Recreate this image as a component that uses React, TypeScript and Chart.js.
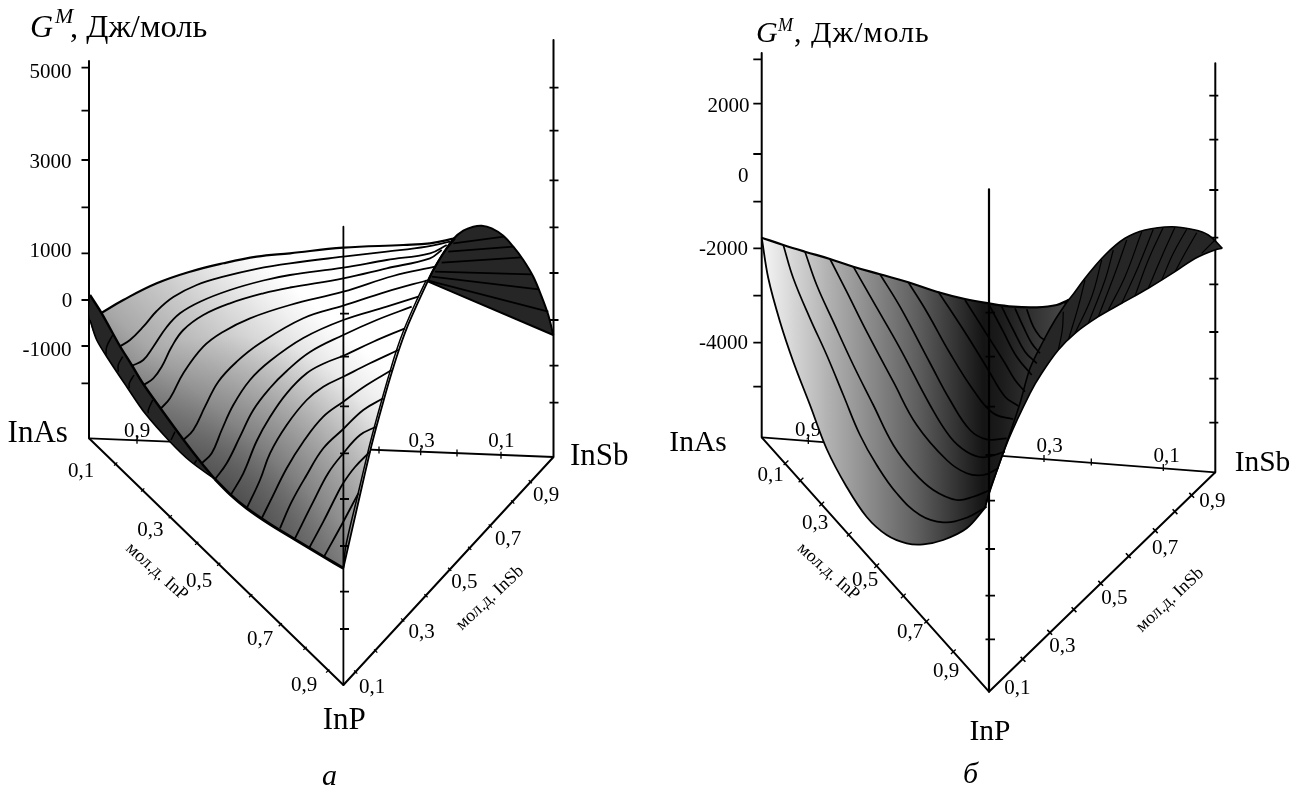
import React, { useEffect, useRef } from "react";
import { Chart, registerables } from "chart.js";

Chart.register(...registerables);

type Pt = [number, number];

// ---------- Panel a ----------
const axisLeftA: Pt[] = [[89, 61], [89, 438.3]];
const axisRightA: Pt[] = [[553.5, 40], [553.5, 457]];
const axisMidA: Pt[] = [[343.4, 226.7], [343.4, 685]];
const baseA: Pt[] = [[89, 438.3], [343.4, 685], [553.5, 457]];
const backA: Pt[] = [[89, 438.3], [553.5, 457]];
const leftTicksA = [67.7, 110.7, 160, 207.3, 253.3, 300, 346, 383.3];
const rightTicksA = [87.7, 130.7, 180.3, 227.3, 273, 320, 365.7, 402.7];
const midTicksA = [313.7, 356.7, 406.3, 453.3, 499, 546, 591.7, 629];
const inpTicksA: Pt[] = [[115.7, 464], [142.7, 490], [170.3, 516.7], [196.7, 543.3], [218.7, 564.3], [250.7, 595.7], [280.3, 624.7], [305, 648.3], [327.7, 671]];
const insbTicksA: Pt[] = [[355.7, 672], [375.7, 651], [402.7, 620], [426, 595.7], [449.7, 569.3], [469.7, 548.3], [490.3, 526], [512.7, 502], [530.3, 481.7]];
const backTicksA: Pt[] = [[137, 440.3], [379, 450], [420.7, 451.7], [457, 453], [501, 455.3]];

const topEdgeA: Pt[] = [[101.7, 312.7], [123.3, 300], [156.7, 283.3], [190, 271.7], [223.3, 263.3], [256.7, 256.7], [290, 253.3], [343.3, 247.7], [403.3, 245], [430, 243.3], [455, 238.3]];
const wingEdgeA: Pt[] = [[455, 238.3], [443.3, 253.3], [433.3, 270], [428.3, 280]];
const rightEdgeA: Pt[] = [[428.3, 280], [418.3, 301.7], [406.7, 328.3], [398.3, 351.7], [390, 378.3], [383.3, 401.7], [376, 428.3], [370, 451.7], [360, 495], [343.3, 568.3]];
const innerEdgeA: Pt[] = [[426.3, 280], [416, 301.7], [404.5, 328.3], [396, 351.7], [388, 378.3], [381.3, 401.7], [374, 428.3], [368, 451.7], [358, 494], [346, 545], [343.3, 568.3]];
const bottomEdgeA: Pt[] = [[343.3, 568.3], [325, 557.5], [295, 539.5], [270, 524.3], [246.7, 508.3], [230.7, 495], [215, 479.3]];
const stripEdgeA: Pt[] = [[215, 479.3], [201.7, 463.3], [183.3, 439.5], [161, 409], [143.3, 384], [131.7, 365], [119.3, 345], [101.7, 312.7]];
const stripUpperA: Pt[] = [[90, 295], [101.7, 313.3], [119.3, 345], [131.7, 365], [143.3, 384], [161, 409], [183.3, 439.5], [201.7, 463.3], [215, 479.3]];
const stripLowerA: Pt[] = [[215, 479.3], [190, 461], [170, 441.7], [145, 413.3], [126.7, 386.7], [110, 361.7], [96.7, 340], [90, 320], [90, 295]];
const stripLinesA: Pt[][] = [
  [[112.7, 335], [106.7, 346.7], [106, 355]],
  [[122.7, 356.7], [118.3, 365], [118.3, 371.7]],
  [[134, 375], [129.3, 383.3], [129.3, 388.3]],
  [[152.7, 400], [148.3, 410], [148.3, 413.3]],
  [[175, 431.7], [171, 440]],
  [[196.7, 460], [194, 464]],
];
const contoursA: Pt[][] = [
  [[119.3, 346.7], [130, 340], [143.3, 326.7], [156.7, 311], [173.3, 297], [196.7, 285], [223.3, 276.7], [256.7, 268.8], [290, 263.3], [343.3, 256.7], [386.7, 251.7], [426.7, 246.7], [450, 241.7]],
  [[131.7, 366], [143.3, 360], [153.3, 346.7], [166.7, 327], [180, 313.3], [200, 301.7], [230, 290], [263.3, 280.5], [290, 275], [343.3, 267.7], [386.7, 260], [430, 253.3], [446.7, 245]],
  [[143.3, 385.3], [153.3, 378.3], [161.7, 366.7], [171.7, 346.7], [183.3, 330], [203.3, 315], [230, 303.3], [263.3, 293.3], [290, 287.5], [343.3, 278.3], [386.7, 268.3], [430, 258.3], [441.7, 250]],
  [[161, 408.3], [170, 398.3], [183.3, 373.3], [203.3, 346.7], [223.3, 331.7], [250, 318.3], [290, 305], [343.3, 291.7], [393, 276], [435, 266.7]],
  [[183.3, 440], [193.3, 430], [205, 406.7], [218.3, 381.7], [236.7, 361.7], [260, 343.3], [303.3, 318.3], [343.3, 305.7], [386.7, 291.7], [428.3, 280]],
  [[201.7, 463.3], [211.7, 453.3], [221.7, 430], [233.3, 405], [250, 380], [270, 361], [303.3, 338], [343.3, 320], [386.7, 306.7], [418.3, 296.7]],
  [[215, 479.3], [226.7, 463.3], [240, 436.7], [253.3, 410], [270, 388], [286.7, 371], [310, 352], [343.3, 335], [376.7, 320], [411.7, 306.7]],
  [[230.7, 495], [243.3, 473.3], [256.7, 441], [270, 417], [286.7, 393.3], [306.7, 373.3], [325, 363], [343.3, 355.7], [373.3, 341.7], [405, 328.3]],
  [[246.7, 508.3], [260, 480], [270, 453.3], [286.7, 425], [306.7, 400], [323.3, 386.7], [343.3, 376.7], [370, 363.3], [398.3, 350]],
  [[261.7, 518.3], [270, 501.7], [286.7, 468.3], [303.3, 441.7], [323.3, 416.7], [343.3, 401.7], [366.7, 385], [391.7, 370]],
  [[280, 528.3], [291.7, 501.7], [306.7, 475], [323.3, 448.3], [343.3, 429], [363.3, 410], [383.3, 398.3]],
  [[295, 538.3], [313.3, 501.7], [328.3, 473], [343.3, 453.3], [360, 435], [376, 426.7]],
  [[309.3, 547.7], [323.3, 521.7], [336.7, 495], [343.3, 483], [355, 467], [370, 451.7]],
  [[324, 556.7], [343.3, 521.7], [358.3, 493.3]],
];
const wingA: Pt[] = [[428.3, 280], [433.3, 270], [443.3, 253.3], [453.3, 239], [463.3, 230.7], [473.3, 226.7], [481.7, 225.7], [491.7, 228.3], [503.3, 235.7], [513.3, 246.7], [523.3, 260], [533.3, 276.7], [541.7, 296.7], [548.3, 315], [553.3, 335], [553.3, 335], [428.3, 281.7], [428.3, 280]];
const wingLinesA: Pt[][] = [
  [[453.3, 243.3], [504, 236.7]],
  [[448.3, 251.7], [513.3, 246.7]],
  [[441.7, 262.7], [521.7, 257.3]],
  [[435, 271.7], [531, 274.3]],
  [[431.7, 276.7], [538.7, 289.3]],
  [[428.3, 280.7], [548.3, 311.7]],
];

// ---------- Panel b ----------
const axisLeftB: Pt[] = [[761.7, 53], [761.7, 437.3]];
const axisRightB: Pt[] = [[1215.3, 63.3], [1215.3, 472.3]];
const axisMidB: Pt[] = [[989, 189.3], [989, 691.7]];
const baseB: Pt[] = [[761.7, 437.3], [989, 691.7], [1215.3, 472.3]];
const backB: Pt[] = [[761.7, 437.3], [1215.3, 472.3]];
const leftTicksB = [59.3, 103.7, 154, 201.7, 248.3, 295.7, 342.7, 386.7];
const rightTicksB = [95.7, 139.7, 190, 237.7, 284.3, 332, 378.7, 422.7];
const midTicksB = [312.7, 356.7, 406.7, 455, 500.7, 549, 595.7, 639.3];
const inpTicksB: Pt[] = [[786, 462.7], [801, 480], [821.7, 504], [849.3, 534.3], [876.7, 565.7], [903.3, 596], [926.7, 621.3], [953.3, 651.7]];
const insbTicksB: Pt[] = [[1023, 659.3], [1049.7, 632.3], [1074, 609.7], [1100.7, 583.3], [1128.3, 555.7], [1155.3, 530.7], [1175, 511.7], [1191.7, 495.3]];
const backTicksB: Pt[] = [[808.3, 440.5], [1044, 458.5], [1091.3, 462], [1163.3, 467.5]];

const topEdgeB: Pt[] = [[761.7, 237.7], [783.3, 245], [805, 251.7], [830, 259], [853.3, 266.7], [880, 274.3], [908.3, 282.3], [936.7, 291.7], [965, 299], [988.3, 303.3], [1013.3, 306.7], [1036.7, 307.3], [1056.7, 305], [1068.3, 300]];
const innerEdgeB: Pt[] = [[1068.3, 300], [1055, 320], [1043.3, 341], [1030, 368.3], [1020, 403.3], [1010, 433.3], [998.3, 466.7], [990, 490], [985, 508]];
const lowerEdgeB: Pt[] = [[985, 508], [966.7, 528.3], [943.3, 540], [923.3, 544.3], [906.7, 543.3], [886.7, 535], [866.7, 517], [846.7, 487], [826.7, 449], [810, 405], [793.3, 361.7], [780, 321.7], [768.3, 278.3], [761.7, 237.7]];
const contoursB: Pt[][] = [
  [[783.3, 245], [793.3, 278.3], [810, 318.3], [826.7, 355], [843.3, 395], [860, 435], [876.7, 465], [896.7, 493.3], [920, 515], [943.3, 522.3], [966.7, 517.7], [986.7, 506.7]],
  [[805, 251.7], [816.7, 285], [833.3, 321.7], [853.3, 365], [873.3, 405], [893.3, 445], [913.3, 471.7], [933.3, 490], [956.7, 500], [973.3, 496.7], [990, 490]],
  [[830, 259], [846.7, 291.7], [866.7, 331.7], [893.3, 381.7], [916.7, 425], [946.7, 460], [966.7, 473.3], [983.3, 475], [998.3, 468.3]],
  [[853.3, 266.7], [873.3, 301.7], [900, 348.3], [930, 405], [950, 436.7], [966.7, 451.7], [983.3, 457.3], [1005, 451.7]],
  [[880, 274.3], [900, 306.7], [930, 363], [950, 400], [970, 430], [986.7, 439.3], [1006.7, 438.3]],
  [[908.3, 282.3], [926.7, 311.7], [950, 353.3], [973.3, 390], [993.3, 413.3], [1013.3, 419.3]],
  [[938.3, 291.7], [966.7, 335], [988.3, 370], [1005, 396.7], [1018.3, 406]],
  [[965, 300], [988.3, 336.7], [1005, 363.3], [1015, 380], [1025, 391.7]],
  [[988.3, 303.3], [1003.3, 331.7], [1016.7, 356.7], [1031.7, 375]],
  [[1001.7, 306.7], [1013.3, 330], [1025, 351.7], [1036.7, 363.3]],
  [[1015, 308.3], [1023.3, 326.7], [1031.7, 343.3], [1040, 353.3]],
  [[1026.7, 309.3], [1033.3, 326.7], [1040, 336.7], [1045, 340]],
];
const wingTopB: Pt[] = [[1064.3, 303.3], [1070, 298.3], [1085, 278.3], [1105, 255], [1125, 238.3], [1145, 230], [1171.7, 226.7], [1191.7, 229.3], [1208.3, 235], [1222.3, 248.3]];
const wingOuterB: Pt[] = [[1222.3, 248.3], [1215, 250], [1195, 258.5], [1175, 271.7], [1148.3, 288.3], [1121.7, 303.3], [1098.3, 316.7], [1075, 333.3], [1058.3, 350], [1041.7, 373.3], [1030, 393.3], [1008.3, 440], [990, 491], [985, 508]];
const wingInnerB: Pt[] = [[985, 508], [990, 490], [998.3, 466.7], [1010, 433.3], [1020, 403.3], [1030, 368.3], [1043.3, 341], [1055, 320], [1064.3, 303.3]];
const wingLinesB: Pt[][] = [
  [[1063.3, 311.7], [1062.3, 330], [1058.3, 350]],
  [[1085, 280], [1078.3, 306.7], [1068.3, 340]],
  [[1101.7, 260], [1091.7, 296.7], [1075, 333.3]],
  [[1113.3, 250], [1105, 280], [1088.3, 323.3]],
  [[1126.7, 240], [1115, 273.3], [1098.3, 316.7]],
  [[1141.7, 231.7], [1125, 276.7], [1108.3, 310]],
  [[1153.3, 229.3], [1138.3, 266.7], [1121.7, 303.3]],
  [[1163.3, 227.3], [1148.3, 260], [1135, 296]],
  [[1175, 227.3], [1161.7, 256.7], [1148.3, 288.3]],
  [[1186.7, 229.3], [1173.3, 253.3], [1161.7, 280]],
  [[1196.7, 232.7], [1185, 253.3], [1175, 271.7]],
  [[1215, 240], [1201.7, 253.3]],
];

// ---------- Labels ----------
type Label = [string, number, number];
const valueLabelsA: Label[] = [["5000", 50.5, 71], ["3000", 50.5, 161], ["1000", 50.5, 250], ["0", 67, 300], ["-1000", 47, 349.5]];
const tickLabelsA: Label[] = [["0,9", 137, 430.7], ["0,3", 421.7, 440], ["0,1", 501.3, 440], ["0,1", 81, 470.7], ["0,3", 150.3, 529.3], ["0,5", 199, 580], ["0,7", 260, 638], ["0,9", 304, 684.3], ["0,1", 372, 686.7], ["0,3", 421.7, 631.7], ["0,5", 464.3, 581.7], ["0,7", 508, 538.3], ["0,9", 546, 494.7]];
const cornerLabelsA: Label[] = [["InAs", 37.7, 432.7], ["InSb", 599.3, 455], ["InP", 344.3, 719.3]];
const valueLabelsB: Label[] = [["2000", 728.5, 105], ["0", 743.3, 175.7], ["-2000", 723.5, 248], ["-4000", 723.5, 342]];
const tickLabelsB: Label[] = [["0,9", 808, 429], ["0,3", 1049.7, 445], ["0,1", 1166.7, 455], ["0,1", 770.7, 474], ["0,3", 815, 522], ["0,5", 865, 579.3], ["0,7", 910, 631.7], ["0,9", 946, 670], ["0,1", 1017.3, 687.3], ["0,3", 1062.3, 645], ["0,5", 1114.3, 597.3], ["0,7", 1165, 547.3], ["0,9", 1212.3, 500]];
const cornerLabelsB: Label[] = [["InAs", 698, 441.7], ["InSb", 1262.5, 461.7], ["InP", 990, 730.7]];
const axisNames: any[] = [["мол.д. InP", 156.7, 571.7, 42], ["мол.д. InSb", 490, 598, -43], ["мол.д. InP", 828.3, 571.7, 42], ["мол.д. InSb", 1170, 600, -43]];

// ---------- helpers ----------
const SERIF = '"Liberation Serif"';
const pts = (p: Pt[]) => p.map(([x, y]) => ({ x, y }));

function line(p: Pt[], width: number, tension = 0, color = "#000") {
  return { data: pts(p), borderColor: color, borderWidth: width, tension, pointRadius: 0, showLine: true, fill: false, borderCapStyle: "butt", borderJoinStyle: "round", spanGaps: false };
}
function shape(p: Pt[], background: any, tension = 0.35) {
  return { data: pts(p), borderWidth: 0, borderColor: "transparent", backgroundColor: background, tension, pointRadius: 0, showLine: true, fill: "shape" };
}
function hTicks(ys: number[], x0: number, x1: number) {
  const out: any[] = [];
  ys.forEach((y) => out.push({ x: x0, y }, { x: x1, y }, { x: NaN, y: NaN }));
  return { data: out, borderColor: "#000", borderWidth: 1.8, pointRadius: 0, showLine: true, fill: false, tension: 0, spanGaps: false };
}
function marks(c: Pt[], dx: number, dy: number, w = 1.3) {
  const out: any[] = [];
  c.forEach(([x, y]) => out.push({ x: x - dx, y: y - dy }, { x: x + dx, y: y + dy }, { x: NaN, y: NaN }));
  return { data: out, borderColor: "#000", borderWidth: w, pointRadius: 0, showLine: true, fill: false, tension: 0, spanGaps: false };
}
function gradient(x0: number, y0: number, x1: number, y1: number, stops: [number, string][]) {
  return (c: any) => {
    const ch = c.chart;
    if (!ch.chartArea) return "#888";
    const sx = ch.scales.x, sy = ch.scales.y;
    const g = ch.ctx.createLinearGradient(sx.getPixelForValue(x0), sy.getPixelForValue(y0), sx.getPixelForValue(x1), sy.getPixelForValue(y1));
    stops.forEach(([o, col]) => g.addColorStop(o, col));
    return g;
  };
}
function radial(x: number, y: number, r: number, stops: [number, string][]) {
  return (c: any) => {
    const ch = c.chart;
    if (!ch.chartArea) return "rgba(0,0,0,0)";
    const px = ch.scales.x.getPixelForValue(x), py = ch.scales.y.getPixelForValue(y);
    const g = ch.ctx.createRadialGradient(px, py, 0, px, py, r);
    stops.forEach(([o, col]) => g.addColorStop(o, col));
    return g;
  };
}

const textPlugin = {
  id: "figureText",
  beforeDatasetsDraw(chart: any) {
    const { ctx, scales } = chart;
    const X = (v: number) => scales.x.getPixelForValue(v);
    const Y = (v: number) => scales.y.getPixelForValue(v);
    const put = (t: string, x: number, y: number, font: string, rot = 0, base: CanvasTextBaseline = "middle", align: CanvasTextAlign = "center", spacing = "0px") => {
      ctx.save();
      ctx.translate(X(x), Y(y));
      ctx.rotate((rot * Math.PI) / 180);
      ctx.font = font;
      ctx.fillStyle = "#000";
      ctx.textAlign = align;
      ctx.textBaseline = base;
      (ctx as any).letterSpacing = spacing;
      ctx.fillText(t, 0, 0);
      ctx.restore();
    };
    [...valueLabelsA, ...tickLabelsA, ...valueLabelsB, ...tickLabelsB].forEach(([t, x, y]) => put(t, x, y + 1, `21px ${SERIF}`));
    cornerLabelsA.forEach(([t, x, y]) => put(t, x, y + 1.5, `31px ${SERIF}`));
    cornerLabelsB.forEach(([t, x, y]) => put(t, x, y + 1.5, `29.5px ${SERIF}`));
    axisNames.forEach(([t, x, y, r]: any) => put(t, x, y, `18px ${SERIF}`, r));
    put("G", 30, 36.7, `italic 32px ${SERIF}`, 0, "alphabetic", "left");
    put("M", 55, 22.5, `italic 22px ${SERIF}`, 0, "alphabetic", "left");
    put(", Дж/моль", 70, 36.7, `32.5px ${SERIF}`, 0, "alphabetic", "left");
    put("G", 756, 41.7, `italic 30px ${SERIF}`, 0, "alphabetic", "left");
    put("M", 778, 31, `italic 18px ${SERIF}`, 0, "alphabetic", "left");
    put(", Дж/моль", 794, 41.7, `30px ${SERIF}`, 0, "alphabetic", "left", "1px");
    put("а", 322, 785, `italic 30px ${SERIF}`, 0, "alphabetic", "left");
    put("б", 963, 783, `italic 30px ${SERIF}`, 0, "alphabetic", "left");
  },
};

const DARK = "#262626";
const gradA: [number, string][] = [[0, "#ffffff"], [0.1, "#f0f0f0"], [0.33, "#c8c8c8"], [0.53, "#a8a8a8"], [0.6, "#969696"], [0.65, "#8a8a8a"], [0.75, "#777777"], [1, "#555555"]];
const shadeA: [number, string][] = [[0, "rgba(0,0,0,0.38)"], [0.35, "rgba(0,0,0,0.28)"], [1, "rgba(0,0,0,0)"]];
const gradB: [number, string][] = [[0, "#f6f6f6"], [0.22, "#b0b0b0"], [0.5, "#606060"], [0.72, "#141414"], [0.78, "#1c1c1c"], [1, "#4c4c4c"]];

export default function App() {
  const ref = useRef<HTMLCanvasElement>(null);
  useEffect(() => {
    const mainA = [...topEdgeA, ...wingEdgeA, ...rightEdgeA, ...bottomEdgeA, ...stripEdgeA];
    const paint: any[] = [
      // panel a, behind the surface
      line(axisLeftA, 2), line(axisRightA, 2), line(baseA, 2), line(backA, 1.8),
      hTicks(leftTicksA, 81.5, 89), hTicks(rightTicksA, 549.5, 558.5),
      marks(inpTicksA, 1.6, -1.6), marks(insbTicksA, 1.6, 1.6), marks(backTicksA, 0, 3.5),
      // panel a surface
      shape([...wingA], DARK),
      shape([...stripUpperA, ...stripLowerA], DARK),
      shape(mainA, gradient(310, 300, 130, 500, gradA)),
      shape(mainA, radial(225, 510, 175, shadeA)),
      ...contoursA.map((c) => line(c, 1.8, 0.4)),
      ...wingLinesA.map((c) => line(c, 1.8, 0)),
      ...stripLinesA.map((c) => line(c, 1.5, 0.4)),
      line(topEdgeA, 2.2, 0.4),
      line(stripUpperA, 2.4, 0.3),
      line(stripLowerA.slice(0, -1), 1.6, 0.3),
      line(bottomEdgeA, 3, 0.3),
      line(wingEdgeA, 2, 0.3),
      line(rightEdgeA, 1.8, 0.3),
      line(innerEdgeA, 1.5, 0.3),
      line(wingA.slice(0, 15), 2, 0.35),
      line([[553.3, 335], [428.3, 281.7]], 2),
      line(axisMidA, 1.8), hTicks(midTicksA, 340, 349),
      // panel b, behind the surface
      line(axisLeftB, 2), line(axisRightB, 2), line(baseB, 2), line(backB, 1.8),
      hTicks(leftTicksB, 753.3, 761.7), hTicks(rightTicksB, 1209.3, 1218.3),
      marks(inpTicksB, 2.4, -2.2), marks(insbTicksB, 2.4, 2.4, 1.6), marks(backTicksB, 0, 3.5),
      // panel b surface
      shape([...wingTopB, ...wingOuterB, ...wingInnerB], DARK),
      shape([...topEdgeB, ...innerEdgeB, ...lowerEdgeB], gradient(762, 0, 1070, 0, gradB)),
      ...contoursB.map((c) => line(c, 1.7, 0.4)),
      ...wingLinesB.map((c) => line(c, 1.2, 0.4)),
      line(topEdgeB, 2.2, 0.4),
      line(lowerEdgeB, 1.8, 0.35),
      line(innerEdgeB, 1.6, 0.3),
      line(wingTopB, 1.6, 0.4),
      line(wingOuterB, 1.6, 0.35),
      line(axisMidB, 2.2), hTicks(midTicksB, 985.5, 995),
    ];
    const chart = new Chart(ref.current as HTMLCanvasElement, {
      type: "scatter",
      data: { datasets: paint.slice().reverse() },
      plugins: [textPlugin],
      options: {
        animation: false,
        responsive: false,
        layout: { padding: 0 },
        clip: false,
        scales: {
          x: { type: "linear", min: 0, max: 1305, display: false },
          y: { type: "linear", min: 0, max: 787, reverse: true, display: false },
        },
        plugins: { legend: { display: false }, tooltip: { enabled: false }, title: { display: false } },
      },
    } as any);
    return () => chart.destroy();
  }, []);
  return (
    <div style={{ position: "absolute", left: 0, top: 0, width: 1305, height: 787, background: "#fff" }}>
      <canvas ref={ref} width={1305} height={787} style={{ display: "block" }} />
    </div>
  );
}
